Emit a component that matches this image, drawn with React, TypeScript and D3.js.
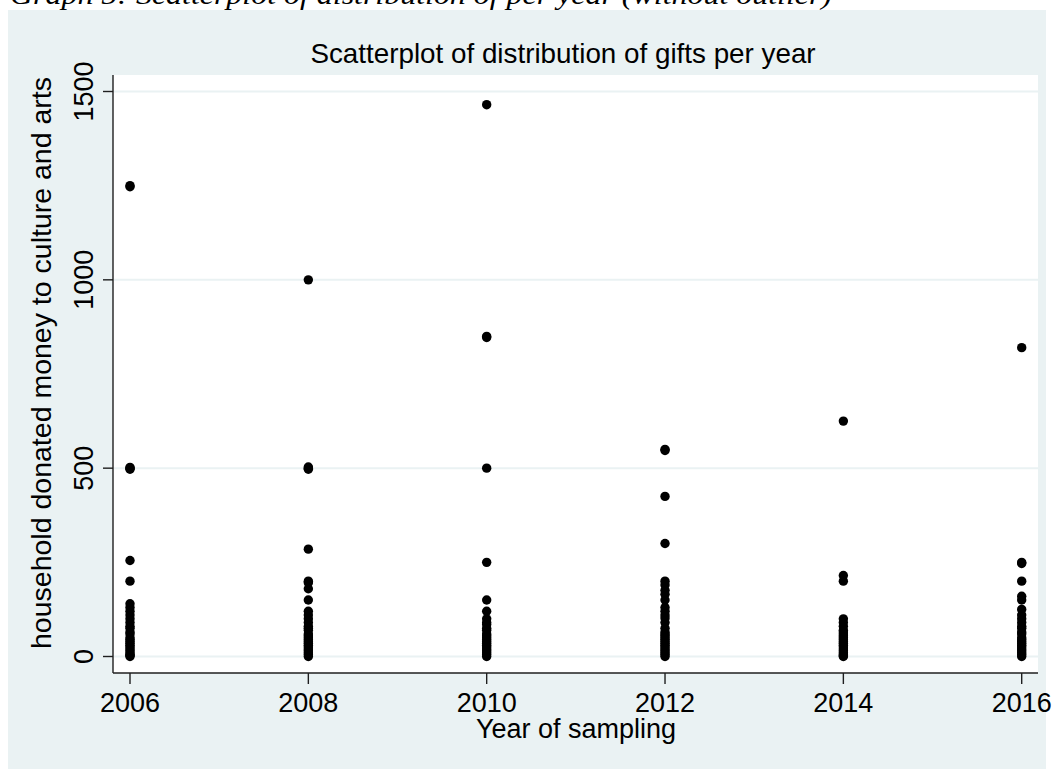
import React from 'react';
import * as d3 from 'd3';

// ---- data ----
const years = [2006, 2008, 2010, 2012, 2014, 2016];

const gifts2006 = [1250, 1247, 500, 497, 502, 255, 200, 140, 130, 120, 110, 100, 90, 80, 75, 65, 60, 50, 45, 40, 35, 30, 25, 20, 15, 10, 5, 3, 0];
const gifts2008 = [1000, 500, 497, 503, 285, 200, 196, 180, 150, 120, 110, 100, 90, 80, 75, 70, 60, 55, 50, 45, 40, 35, 30, 25, 20, 15, 10, 5, 0];
const gifts2010 = [1465, 850, 847, 500, 250, 150, 120, 100, 90, 85, 75, 70, 60, 55, 50, 45, 40, 35, 30, 25, 20, 15, 10, 5, 0];
const gifts2012 = [550, 547, 425, 300, 200, 190, 176, 165, 150, 130, 120, 110, 102, 90, 75, 65, 60, 55, 50, 45, 40, 35, 30, 25, 20, 15, 10, 5, 0];
const gifts2014 = [625, 215, 200, 100, 90, 80, 70, 65, 60, 55, 50, 45, 40, 35, 30, 25, 20, 15, 10, 5, 2, 0];
const gifts2016 = [820, 250, 247, 200, 160, 150, 125, 110, 100, 90, 80, 75, 65, 60, 50, 45, 40, 35, 30, 25, 20, 15, 10, 5, 0];

const giftsByYear = [gifts2006, gifts2008, gifts2010, gifts2012, gifts2014, gifts2016];

const yTicks = [0, 500, 1000, 1500];
const xTicks = [2006, 2008, 2010, 2012, 2014, 2016];

const caption = 'Graph 5: Scatterplot of distribution of per year (without outlier)';
const title = 'Scatterplot of distribution of gifts per year';
const xTitle = 'Year of sampling';
const yTitle = 'household donated money to culture and arts';

export default function App() {
  const W = 1054;
  const H = 769;
  const plot = { left: 113, right: 1038, top: 75, bottom: 673 };
  const panel = { left: 8, top: 10, right: 1046, bottom: 769 };

  const x = d3.scaleLinear().domain([2006, 2016]).range([130, 1021.7]);
  const y = d3.scaleLinear().domain([0, 1500]).range([656.5, 91.5]);

  const points = years.flatMap((yr, i) => giftsByYear[i].map((v) => ({ yr, v })));

  const sans = '"Liberation Sans", Arial, Helvetica, sans-serif';
  const serif = '"Liberation Serif", "Times New Roman", serif';
  const bg = '#eaf2f3';
  const axisColor = '#1f1f1f';

  return (
    <svg
      width={W}
      height={H}
      style={{ position: 'absolute', left: 0, top: 0, display: 'block', background: '#ffffff' }}
    >
      {/* caption above the graph, cut at the top as in the reference */}
      <text
        x={10}
        y={4}
        fontFamily={serif}
        fontStyle="italic"
        fontSize={28}
        textLength={822}
        lengthAdjust="spacingAndGlyphs"
        fill="#000"
      >
        {caption}
      </text>

      {/* graph background */}
      <rect x={panel.left} y={panel.top} width={panel.right - panel.left} height={panel.bottom - panel.top} fill={bg} />

      {/* plot region */}
      <rect x={plot.left} y={plot.top} width={plot.right - plot.left} height={plot.bottom - plot.top} fill="#ffffff" />

      {/* grid lines */}
      {yTicks.map((t) => (
        <line key={'g' + t} x1={plot.left} x2={plot.right} y1={y(t)} y2={y(t)} stroke={bg} strokeWidth={2} />
      ))}

      {/* points */}
      {points.map((p, i) => (
        <circle key={i} cx={x(p.yr)} cy={y(p.v)} r={4.7} fill="#000" />
      ))}

      {/* axes */}
      <line x1={plot.left} x2={plot.left} y1={plot.top} y2={plot.bottom} stroke={axisColor} strokeWidth={1.4} />
      <line x1={plot.left} x2={plot.right} y1={plot.bottom} y2={plot.bottom} stroke={axisColor} strokeWidth={1.4} />

      {/* y ticks */}
      {yTicks.map((t) => (
        <g key={'yt' + t}>
          <line x1={plot.left - 10} x2={plot.left} y1={y(t)} y2={y(t)} stroke={axisColor} strokeWidth={1.4} />
          <text
            transform={`translate(93,${y(t)}) rotate(-90)`}
            textAnchor="middle"
            fontFamily={sans}
            fontSize={27}
            fill="#000"
          >
            {t}
          </text>
        </g>
      ))}

      {/* x ticks */}
      {xTicks.map((t) => (
        <g key={'xt' + t}>
          <line x1={x(t)} x2={x(t)} y1={plot.bottom} y2={plot.bottom + 11} stroke={axisColor} strokeWidth={1.4} />
          <text x={x(t)} y={711.5} textAnchor="middle" fontFamily={sans} fontSize={27} fill="#000">
            {t}
          </text>
        </g>
      ))}

      {/* titles */}
      <text x={563} y={63} textAnchor="middle" fontFamily={sans} fontSize={27.8} fill="#000">
        {title}
      </text>
      <text x={576} y={738} textAnchor="middle" fontFamily={sans} fontSize={27} fill="#000">
        {xTitle}
      </text>
      <text
        transform={`translate(51,363) rotate(-90)`}
        textAnchor="middle"
        fontFamily={sans}
        fontSize={28.5}
        fill="#000"
      >
        {yTitle}
      </text>
    </svg>
  );
}
